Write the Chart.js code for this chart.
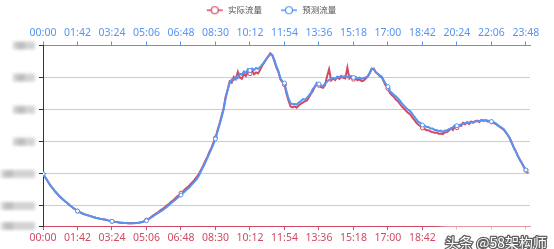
<!DOCTYPE html>
<html><head><meta charset="utf-8">
<script src="https://cdn.jsdelivr.net/npm/chart.js@4/dist/chart.umd.min.js"></script>
<style>html,body{margin:0;padding:0;background:#fff;}canvas{display:block;}</style>
</head><body>
<canvas id="c" width="554" height="249"></canvas>
<script>
const seriesNames = ['实际流量', '预测流量'];
const stepMinutes = 6;
const actualFlow = [
100,90,81,70,61,53,45,38,31,25,
19,14,9,3,-2,-7,-11,-16,-19,-22,
-25,-27,-29,-31,-33,-35,-37,-38,-40,-41,
-42,-43,-45,-46,-48,-49,-50,-51,-52,-52,
-53,-53,-54,-53,-54,-53,-53,-52,-51,-50,
-47,-44,-41,-36,-31,-27,-22,-18,-13,-9,
-4,1,6,12,17,22,29,33,40,45,
52,57,63,70,76,84,92,102,114,126,
140,153,168,181,197,212,236,257,281,304,
340,362,388,384,402,395,418,400,396,411,
405,418,412,424,410,416,413,424,437,446,
457,466,476,470,452,432,418,395,386,378,
350,328,310,307,310,306,313,318,322,326,
328,338,349,358,372,381,376,370,368,377,
404,426,391,397,392,401,396,402,399,397,
431,397,403,395,396,392,394,389,391,396,
403,413,427,428,416,411,404,400,387,374,
366,352,345,340,331,326,317,309,303,296,
290,285,276,268,259,253,249,243,240,236,
236,232,230,228,229,225,226,224,229,230,
234,242,237,248,244,251,249,259,254,261,
255,263,259,264,266,261,268,265,267,263,
264,262,259,256,251,247,242,238,230,221,
211,197,182,170,156,144,133,121,111,102
];
const predictedFlow = [
100,90,80,70,61,53,45,38,31,25,
19,14,9,3,-2,-7,-11,-16,-19,-22,
-25,-27,-29,-31,-33,-35,-37,-38,-40,-41,
-42,-43,-45,-46,-48,-49,-50,-51,-52,-52,
-53,-53,-54,-54,-54,-54,-53,-53,-52,-50,
-48,-46,-42,-37,-33,-29,-25,-21,-17,-13,
-8,-3,2,8,13,18,24,29,34,40,
46,52,57,64,71,78,86,96,110,122,
136,150,164,178,193,209,232,253,276,300,
335,362,383,394,392,401,398,412,409,419,
415,426,422,428,424,430,427,433,440,449,
458,466,472,470,455,436,420,398,388,383,
357,335,320,317,318,316,322,326,333,331,
336,344,352,365,372,384,380,376,373,382,
387,393,396,399,396,403,401,406,402,405,
401,406,404,400,402,398,400,396,399,400,
404,415,428,425,417,412,407,403,390,380,
372,357,352,346,341,334,327,319,312,305,
300,295,287,278,270,262,259,252,251,246,
246,241,241,237,237,233,235,231,235,235,
239,241,245,252,250,252,254,256,258,259,
260,261,262,263,264,265,266,267,267,266,
265,263,261,258,253,248,244,240,231,222,
212,197,183,170,156,144,134,121,112,103
];
const xTickMinutes = [0,102,204,306,408,510,612,714,816,918,1020,1122,1224,1326,1428];
const xTickLabels = ['00:00','01:42','03:24','05:06','06:48','08:30','10:12','11:54','13:36','15:18','17:00','18:42','20:24','22:06','23:48'];
const yTicks = [-62.5, 0, 100, 200, 300, 400, 500];
const watermark = '头条 @58架构师';

const RED = '#d14a61', BLUE = '#5793f3';
const minutes = actualFlow.map((_, i) => i * stepMinutes);
const toPts = arr => arr.map((v, i) => ({x: minutes[i], y: v}));
const markerEvery = 17;

function legendIcon(color) {
  const c = document.createElement('canvas');
  c.width = 30; c.height = 10;
  const g = c.getContext('2d');
  g.strokeStyle = color; g.lineWidth = 1.5;
  g.beginPath(); g.moveTo(13, 5); g.lineTo(29, 5); g.stroke();
  g.beginPath(); g.arc(21, 5, 3.5, 0, Math.PI * 2);
  g.fillStyle = '#fff'; g.fill(); g.lineWidth = 1.2; g.stroke();
  return c;
}

const blurLabels = {
  id: 'blurLabels',
  afterDraw(chart) {
    const ys = chart.scales.y, ctx = chart.ctx;
    ctx.save();
    ctx.filter = 'blur(1.5px)';
    ys.ticks.forEach(t => {
      const py = ys.getPixelForValue(t.value);
      const wide = t.value <= 100;
      const x0 = wide ? 1 : 13;
      ctx.fillStyle = 'rgba(200,200,200,0.8)';
      ctx.fillRect(x0, py - 4, 35 - x0, 8);
      ctx.fillStyle = 'rgba(175,175,175,0.6)';
      ctx.fillRect(x0 + 4, py - 3, 8, 6);
    });
    ctx.restore();
  }
};

const watermarkPlugin = {
  id: 'watermark',
  afterDraw(chart) {
    const ctx = chart.ctx;
    ctx.save();
    ctx.font = '14px "Noto Sans CJK SC"';
    const w = ctx.measureText(watermark).width;
    const x = chart.width - 7 - w, y = chart.height - 6;
    ctx.filter = 'blur(3px)';
    ctx.fillStyle = 'rgba(255,255,255,0.95)';
    ctx.fillRect(x - 4, y - 16, w + 8, 20);
    ctx.filter = 'none';
    ctx.lineJoin = 'round';
    ctx.lineWidth = 2.5;
    ctx.strokeStyle = 'rgba(70,70,70,0.85)';
    ctx.strokeText(watermark, x, y);
    ctx.fillStyle = '#fff';
    ctx.fillText(watermark, x, y);
    ctx.restore();
  }
};

const pointRadius = ctx => (ctx.dataIndex % markerEvery === 0 ? 2 : 0);
const tickFont = {family: '"Noto Sans", sans-serif', size: 10.5};
const setXTicks = s => { s.ticks = xTickMinutes.map(v => ({value: v})); };
const fmtX = v => { const i = xTickMinutes.indexOf(v); return i >= 0 ? xTickLabels[i] : ''; };

new Chart(document.getElementById('c'), {
  type: 'line',
  data: {
    datasets: [
      {label: seriesNames[0], data: toPts(actualFlow), xAxisID: 'x', yAxisID: 'y',
       borderColor: RED, backgroundColor: '#fff', borderWidth: 2, order: 1,
       pointRadius, pointBorderWidth: 1, pointBackgroundColor: '#fff', pointBorderColor: RED, tension: 0},
      {label: seriesNames[1], data: toPts(predictedFlow), xAxisID: 'x2', yAxisID: 'y',
       borderColor: BLUE, backgroundColor: '#fff', borderWidth: 2, order: 0,
       pointRadius, pointBorderWidth: 1, pointBackgroundColor: '#fff', pointBorderColor: BLUE, tension: 0}
    ]
  },
  options: {
    responsive: false, animation: false, devicePixelRatio: 1,
    events: [],
    layout: {padding: {left: 0, right: 24, top: 0, bottom: 0}},
    plugins: {
      tooltip: {enabled: false},
      legend: {
        position: 'top',
        labels: {
          usePointStyle: true, pointStyleWidth: 30, padding: 6,
          color: '#555', font: {family: '"Noto Sans CJK SC", sans-serif', size: 8.5},
          generateLabels: chart => chart.data.datasets.map((d, i) => ({
            text: d.label, fillStyle: d.borderColor, strokeStyle: d.borderColor,
            pointStyle: legendIcon(d.borderColor), datasetIndex: i, hidden: false, lineWidth: 0,
            fontColor: '#555'
          }))
        }
      }
    },
    scales: {
      x: {
        type: 'linear', position: 'bottom', min: 0, max: 1440,
        afterBuildTicks: setXTicks,
        afterFit: s => { s.height = 23; },
        border: {color: RED, width: 1},
        grid: {drawOnChartArea: false, tickLength: 4, tickColor: RED},
        ticks: {color: RED, font: tickFont, padding: 2, maxRotation: 0, autoSkip: false, callback: fmtX}
      },
      x2: {
        type: 'linear', position: 'top', min: 0, max: 1440,
        afterBuildTicks: setXTicks,
        afterFit: s => { s.height = 21; },
        border: {color: BLUE, width: 1},
        grid: {drawOnChartArea: false, tickLength: 4, tickColor: BLUE},
        ticks: {color: BLUE, font: tickFont, padding: 2, maxRotation: 0, autoSkip: false, callback: fmtX}
      },
      y: {
        type: 'linear', min: yTicks[0], max: yTicks[yTicks.length - 1],
        afterBuildTicks: s => { s.ticks = yTicks.map(v => ({value: v})); },
        afterFit: s => { s.width = 43; },
        border: {color: '#333', width: 1},
        grid: {
          color: c => (c.tick && (c.tick.value === yTicks[0] || c.tick.value === yTicks[yTicks.length - 1]) ? 'rgba(0,0,0,0)' : '#ccc'),
          tickColor: '#333', tickLength: 4
        },
        ticks: {callback: () => '', padding: 0}
      }
    }
  },
  plugins: [blurLabels, watermarkPlugin]
});
</script>
</body></html>
